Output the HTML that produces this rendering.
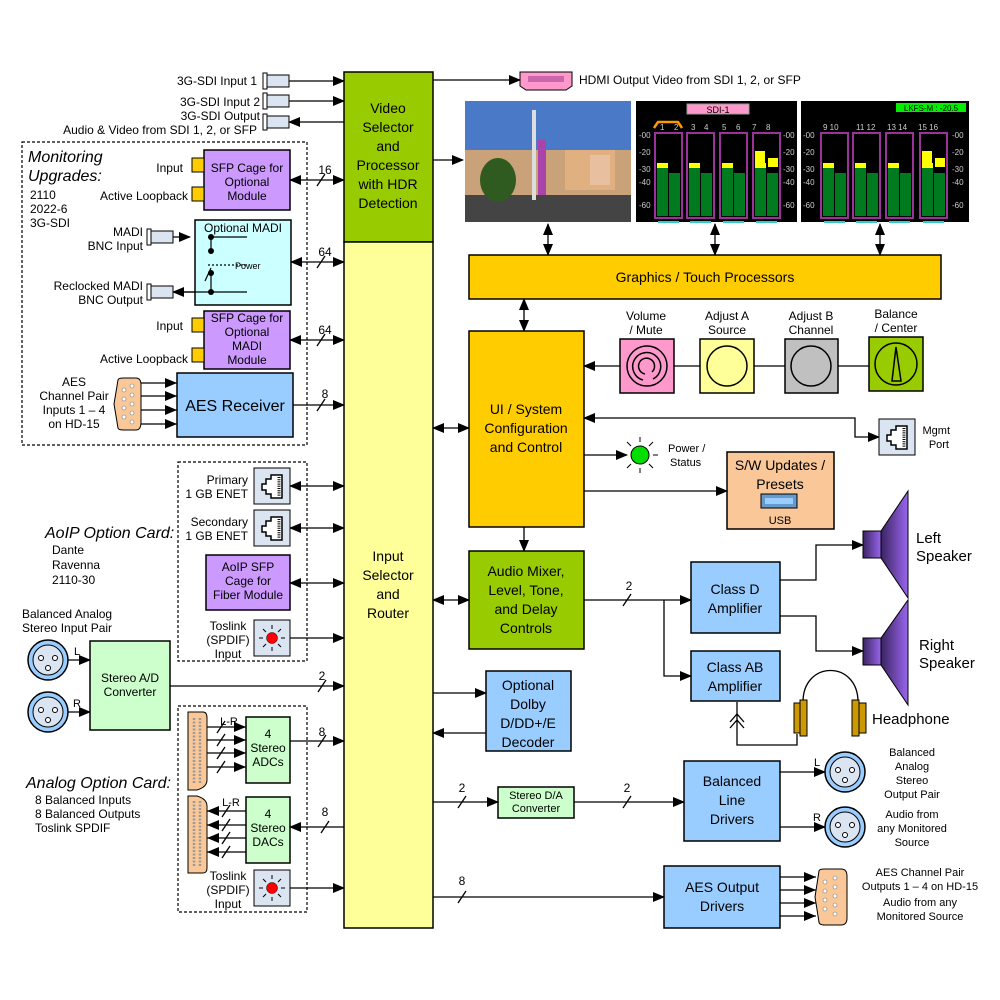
<!DOCTYPE html>
<html><head><meta charset="utf-8"><style>
html,body{margin:0;padding:0;background:#fff}
svg{display:block;font-family:"Liberation Sans",Arial,sans-serif}
</style></head><body>
<svg width="1000" height="1000" viewBox="0 0 1000 1000" xmlns="http://www.w3.org/2000/svg">
<defs>
<marker id="a" markerWidth="12" markerHeight="10" refX="11" refY="5" orient="auto" markerUnits="userSpaceOnUse"><path d="M0,0 L12,5 L0,10 z" fill="#000"/></marker>
<marker id="s" markerWidth="12" markerHeight="10" refX="1" refY="5" orient="auto" markerUnits="userSpaceOnUse"><path d="M12,0 L0,5 L12,10 z" fill="#000"/></marker>
<linearGradient id="sp" x1="0" x2="1"><stop offset="0" stop-color="#3a2460"/><stop offset="1" stop-color="#9966ee"/></linearGradient>
<g id="mg">
<rect x="0" y="0" width="27" height="85" fill="none" stroke="#993399" stroke-width="2"/>
<rect x="2" y="35" width="11" height="48" fill="#007a1e"/><rect x="14" y="40" width="11" height="43" fill="#007a1e"/>
<rect x="2" y="30" width="11" height="5" fill="#ffff00"/>
<rect x="3" y="88" width="21" height="2" fill="#33cccc"/>
</g>
<g id="rj">
<rect x="0" y="0" width="36" height="36" fill="#dbe5f1" stroke="#000"/>
<path d="M28,7 H17 V11 H12 V16 H8 V22 H12 V26 H17 V30 H28 Z" fill="#fff" stroke="#000" stroke-width="1.5"/>
<path d="M25,9 V28" stroke="#000" stroke-dasharray="1,1.2" stroke-width="3"/>
</g>
<g id="led">
<rect x="0" y="0" width="36" height="36" fill="#dbe5f1" stroke="#000"/>
<circle cx="18" cy="18" r="5.5" fill="#ff0000" stroke="#000" stroke-width=".5"/>
<path d="M18,5 V9 M18,27 V31 M5,18 H9 M27,18 H31 M9,9 L12,12 M27,9 L24,12 M9,27 L12,24 M27,27 L24,24" stroke="#000"/>
</g>
<g id="bnc">
<rect x="0" y="0" width="22" height="12" fill="#dbe5f1" stroke="#000"/>
<rect x="-4" y="-2" width="4" height="16" fill="#fff" stroke="#000"/>
</g>
<g id="xlr">
<circle cx="0" cy="0" r="20" fill="#99ccff" stroke="#000" stroke-width="1.5"/>
<circle cx="0" cy="0" r="15" fill="#dbe5f1" stroke="#000"/>
<circle cx="-7" cy="-2" r="2.5" fill="#fff" stroke="#000"/><circle cx="7" cy="-2" r="2.5" fill="#fff" stroke="#000"/><circle cx="0" cy="8" r="2.5" fill="#fff" stroke="#000"/>
</g>
<g id="sl"><path d="M-4,6 L4,-6" stroke="#000" stroke-width="1.3"/></g>
</defs>

<g stroke="#000" stroke-width="1.5" fill="none">
<rect x="344" y="72" width="89" height="170" fill="#99cc00"/>
<rect x="344" y="242" width="89" height="686" fill="#ffff99"/>
<rect x="469" y="255" width="472" height="44" fill="#ffcc00"/>
<rect x="469" y="331" width="115" height="196" fill="#ffcc00"/>
<rect x="469" y="551" width="115" height="98" fill="#99cc00"/>
<rect x="486" y="671" width="85" height="80" fill="#99ccff"/>
<rect x="691" y="562" width="89" height="71" fill="#99ccff"/>
<rect x="691" y="651" width="89" height="50" fill="#99ccff"/>
<rect x="684" y="761" width="96" height="80" fill="#99ccff"/>
<rect x="664" y="866" width="116" height="62" fill="#99ccff"/>
<rect x="498" y="787" width="76" height="31" fill="#ccffcc"/>
<rect x="727" y="452" width="107" height="77" fill="#fac898"/>
<rect x="620" y="339" width="54" height="54" fill="#ff99cc"/>
<rect x="700" y="339" width="54" height="54" fill="#ffff99"/>
<rect x="785" y="339" width="53" height="54" fill="#c0c0c0"/>
<rect x="869" y="337" width="54" height="54" fill="#99cc00"/>
<circle cx="647" cy="366" r="20"/><path d="M643,380 A14,14 0 1 1 653,379"/><path d="M645,374 A8,8 0 1 1 652,372"/>
<circle cx="727" cy="366" r="20"/><circle cx="811" cy="366" r="20"/><circle cx="896" cy="364" r="21"/>
<path d="M892,381 L896,347 L901,381 Z"/>
<rect x="204" y="150" width="86" height="60" fill="#cc99ff"/>
<rect x="195" y="220" width="96" height="85" fill="#ccffff"/>
<rect x="204" y="311" width="86" height="58" fill="#cc99ff"/>
<rect x="177" y="373" width="116" height="64" fill="#99ccff"/>
<rect x="206" y="555" width="84" height="55" fill="#cc99ff"/>
<rect x="90" y="641" width="80" height="89" fill="#ccffcc"/>
<rect x="246" y="717" width="44" height="66" fill="#ccffcc"/>
<rect x="246" y="797" width="44" height="66" fill="#ccffcc"/>
<rect x="22" y="142" width="285" height="303" stroke-dasharray="3,2" stroke-width="1.2"/>
<rect x="178" y="462" width="129" height="199" stroke-dasharray="3,2" stroke-width="1.2"/>
<rect x="178" y="706" width="129" height="206" stroke-dasharray="3,2" stroke-width="1.2"/>
</g>
<g fill="#ffcc00" stroke="#000"><rect x="192" y="158" width="12" height="14"/><rect x="192" y="187" width="12" height="14"/><rect x="192" y="318" width="12" height="14"/><rect x="192" y="348" width="12" height="14"/></g>

<g stroke="#000" stroke-width="1.2" fill="none">
<path d="M211,237 H247"/><path d="M180,292 H247"/>
<path d="M211,237 V251 M211,268 L205,281 M211,273 V292"/>
<path d="M208,265 H248" stroke-dasharray="2,2"/>
</g>
<g fill="#000"><circle cx="211" cy="237" r="3"/><circle cx="211" cy="251" r="3"/><circle cx="211" cy="273" r="3"/><circle cx="211" cy="292" r="3"/></g>
<path d="M173,237 H190" stroke="#000" stroke-width="1.2" marker-end="url(#a)"/>
<path d="M195,292 H173" stroke="#000" stroke-width="1.2" marker-end="url(#a)"/>
<use href="#bnc" x="151" y="231"/><use href="#bnc" x="151" y="286"/>

<use href="#bnc" x="267" y="75"/><use href="#bnc" x="267" y="95"/><use href="#bnc" x="267" y="116"/>
<g stroke="#000" stroke-width="1.3" fill="none">
<path d="M289,81 H344" marker-end="url(#a)"/>
<path d="M289,101 H344" marker-end="url(#a)"/>
<path d="M344,122 H289" marker-end="url(#a)"/>
<path d="M433,80 H520" marker-end="url(#a)"/>
<path d="M433,160 H463" marker-end="url(#a)"/>
<path d="M548,224 V255" marker-start="url(#s)" marker-end="url(#a)"/>
<path d="M715,224 V255" marker-start="url(#s)" marker-end="url(#a)"/>
<path d="M880,224 V255" marker-start="url(#s)" marker-end="url(#a)"/>
<path d="M524,299 V331" marker-start="url(#s)" marker-end="url(#a)"/>
<path d="M524,527 V551" marker-end="url(#a)"/>
<path d="M869,366 H838 M785,366 H754 M700,366 H674"/>
<path d="M620,366 H584" marker-end="url(#a)"/>
<path d="M584,418 H855 V437 H879" marker-start="url(#s)" marker-end="url(#a)"/>
<path d="M584,455 H627" marker-end="url(#a)"/>
<path d="M584,491 H727" marker-end="url(#a)"/>
<path d="M433,428 H469" marker-start="url(#s)" marker-end="url(#a)"/>
<path d="M433,600 H469" marker-start="url(#s)" marker-end="url(#a)"/>
<path d="M433,693 H486" marker-end="url(#a)"/>
<path d="M486,733 H433" marker-end="url(#a)"/>
<path d="M584,600 H691" marker-end="url(#a)"/>
<path d="M664,600 V676 H691" marker-end="url(#a)"/>
<path d="M780,580 H816 V545 H863" marker-end="url(#a)"/>
<path d="M780,616 H816 V651 H863" marker-end="url(#a)"/>
<path d="M433,802 H498" marker-end="url(#a)"/>
<path d="M574,802 H684" marker-end="url(#a)"/>
<path d="M780,772 H825" marker-end="url(#a)"/>
<path d="M780,827 H825" marker-end="url(#a)"/>
<path d="M433,897 H664" marker-end="url(#a)"/>
<path d="M780,877 H816 M780,890 H816 M780,903 H816 M780,916 H816"/>
<path d="M290,180 H344" marker-start="url(#s)" marker-end="url(#a)"/>
<path d="M291,262 H344" marker-start="url(#s)" marker-end="url(#a)"/>
<path d="M290,340 H344" marker-start="url(#s)" marker-end="url(#a)"/>
<path d="M293,405 H344" marker-end="url(#a)"/>
<path d="M140,383 H177 M140,396 H177 M140,410 H177 M140,424 H177"/>
<path d="M290,486 H344" marker-start="url(#s)" marker-end="url(#a)"/>
<path d="M290,528 H344" marker-start="url(#s)" marker-end="url(#a)"/>
<path d="M290,583 H344" marker-start="url(#s)" marker-end="url(#a)"/>
<path d="M290,638 H344" marker-end="url(#a)"/>
<path d="M170,686 H344" marker-end="url(#a)"/>
<path d="M68,660 H90" marker-end="url(#a)"/>
<path d="M68,712 H90" marker-end="url(#a)"/>
<path d="M290,741 H344" marker-end="url(#a)"/>
<path d="M344,827 H290" marker-end="url(#a)"/>
<path d="M290,888 H344" marker-end="url(#a)"/>
<path d="M207,727 H246 M207,740 H246 M207,753 H246 M207,767 H246"/>
<path d="M246,811 H207 M246,825 H207 M246,838 H207 M246,852 H207"/>
<path d="M803,702 C803,660 858,660 858,702"/>
<path d="M797,734 V745 H737 V702"/>
<path d="M730,722 L737,714 L744,722 M730,728 L737,720 L744,728"/>
</g>
<g fill="#000">
<path d="M165,378 L177,383 L165,388z M165,391 L177,396 L165,401z M165,405 L177,410 L165,415z M165,419 L177,424 L165,429z"/>
<path d="M234,722 L246,727 L234,732z M234,735 L246,740 L234,745z M234,748 L246,753 L234,758z M234,762 L246,767 L234,772z"/>
<path d="M219,806 L207,811 L219,816z M219,820 L207,825 L219,830z M219,833 L207,838 L219,843z M219,847 L207,852 L219,857z"/>
<path d="M804,872 L816,877 L804,882z M804,885 L816,890 L804,895z M804,898 L816,903 L804,908z M804,911 L816,916 L804,921z"/>
</g>
<use href="#sl" x="321" y="180"/><use href="#sl" x="321" y="262"/><use href="#sl" x="321" y="340"/><use href="#sl" x="321" y="405"/>
<use href="#sl" x="322" y="686"/><use href="#sl" x="322" y="741"/><use href="#sl" x="325" y="827"/>
<use href="#sl" x="627" y="600"/><use href="#sl" x="462" y="802"/><use href="#sl" x="627" y="802"/><use href="#sl" x="462" y="897"/>
<use href="#sl" x="221" y="727"/><use href="#sl" x="221" y="740"/><use href="#sl" x="221" y="753"/><use href="#sl" x="221" y="767"/>
<use href="#sl" x="226" y="811"/><use href="#sl" x="226" y="825"/><use href="#sl" x="226" y="838"/><use href="#sl" x="226" y="852"/>

<g fill="#fac898" stroke="#000">
<path d="M118,380 Q118,378 124,378 H136 Q141,378 141,385 V422 Q141,430 136,430 H124 Q118,430 118,428 L114,404 Z"/>
<path d="M815,871 Q815,869 821,869 H837 Q843,869 843,876 V918 Q843,925 837,925 H821 Q815,925 815,922 L811,897 Z" transform="translate(4,0)"/>
<path d="M188,712 H203 Q207,712 207,718 V780 Q207,787 197,790 L188,790 Z"/>
<path d="M188,796 L197,796 Q207,799 207,806 V868 Q207,873 203,873 H188 Z"/>
</g>
<g fill="#fff" stroke="#777" stroke-width=".6">
<circle cx="124" cy="390" r="2"/><circle cx="124" cy="399" r="2"/><circle cx="124" cy="408" r="2"/><circle cx="124" cy="417" r="2"/>
<circle cx="132" cy="386" r="2"/><circle cx="132" cy="395" r="2"/><circle cx="132" cy="404" r="2"/><circle cx="132" cy="413" r="2"/><circle cx="132" cy="422" r="2"/>
<circle cx="825" cy="882" r="2"/><circle cx="825" cy="891" r="2"/><circle cx="825" cy="900" r="2"/><circle cx="825" cy="909" r="2"/>
<circle cx="835" cy="878" r="2"/><circle cx="835" cy="887" r="2"/><circle cx="835" cy="896" r="2"/><circle cx="835" cy="905" r="2"/><circle cx="835" cy="914" r="2"/>
</g>
<path d="M194,718 V784 M200,718 V784 M194,801 V867 M200,801 V867" stroke="#999" stroke-width="2.5" stroke-dasharray="2,1.5"/>

<use href="#xlr" x="48" y="660"/><use href="#xlr" x="48" y="712"/>
<use href="#xlr" x="845" y="772"/><use href="#xlr" x="845" y="827"/>
<use href="#rj" x="254" y="468"/><use href="#rj" x="254" y="510"/><use href="#rj" x="879" y="419"/>
<use href="#led" x="254" y="620"/><use href="#led" x="254" y="870"/>
<circle cx="640" cy="455" r="9" fill="#00dd00" stroke="#000"/>
<path d="M640,437 V442 M640,468 V473 M622,455 H627 M653,455 H658 M627,442 L631,446 M653,442 L649,446 M627,468 L631,464 M653,468 L649,464" stroke="#000"/>
<rect x="761" y="494" width="36" height="14" fill="#6699cc" stroke="#000"/><rect x="765" y="498" width="28" height="6" fill="#99ccff"/>
<path d="M520,72 H572 V86 L566,90 H526 L520,86 Z" fill="#ff99cc" stroke="#000"/>
<rect x="528" y="76" width="36" height="6" fill="#cc66aa"/>

<rect x="863" y="531" width="18" height="27" fill="url(#sp)" stroke="#000"/>
<path d="M881,531 L908,491 V598 L881,558 Z" fill="url(#sp)" stroke="#000"/>
<rect x="863" y="638" width="18" height="27" fill="url(#sp)" stroke="#000"/>
<path d="M881,638 L908,600 V705 L881,665 Z" fill="url(#sp)" stroke="#000"/>
<g fill="#cc9900" stroke="#000"><rect x="794" y="703" width="7" height="30"/><rect x="800" y="700" width="7" height="36"/><rect x="859" y="703" width="7" height="30"/><rect x="852" y="700" width="7" height="36"/></g>

<rect x="465" y="101" width="166" height="121" fill="#5b87c9"/>
<rect x="465" y="101" width="166" height="50" fill="#4a79c8"/>
<rect x="465" y="150" width="166" height="45" fill="#c9a27a"/>
<rect x="565" y="150" width="50" height="40" fill="#e0b080"/>
<rect x="590" y="155" width="20" height="30" fill="#e8c0a0"/>
<rect x="465" y="195" width="166" height="27" fill="#444"/>
<ellipse cx="498" cy="180" rx="18" ry="22" fill="#2f5a20"/>
<rect x="532" y="110" width="4" height="90" fill="#ddd"/>
<rect x="538" y="140" width="8" height="55" fill="#aa44aa"/>
<rect x="636" y="101" width="161" height="121" fill="#000"/>
<rect x="801" y="101" width="168" height="121" fill="#000"/>
<rect x="687" y="104" width="62" height="10" fill="#ff99cc" stroke="#999"/>
<rect x="896" y="103" width="70" height="9" fill="#00ee00"/>
<path d="M654,128 L658,122 H678 L682,128" stroke="#ff9900" stroke-width="2.5" fill="none"/>
<use href="#mg" x="655" y="133"/><use href="#mg" x="687" y="133"/><use href="#mg" x="720" y="133"/><use href="#mg" x="753" y="133"/>
<use href="#mg" x="821" y="133"/><use href="#mg" x="853" y="133"/><use href="#mg" x="886" y="133"/><use href="#mg" x="920" y="133"/>
<rect x="755" y="151" width="10" height="16" fill="#ffff00"/><rect x="768" y="158" width="10" height="9" fill="#ffff00"/>
<rect x="922" y="151" width="10" height="16" fill="#ffff00"/><rect x="935" y="158" width="10" height="9" fill="#ffff00"/>
<g fill="#ccc" font-size="8">
<text x="639" y="138">-00</text><text x="639" y="155">-20</text><text x="639" y="172">-30</text><text x="639" y="185">-40</text><text x="639" y="208">-60</text>
<text x="783" y="138">-00</text><text x="783" y="155">-20</text><text x="783" y="172">-30</text><text x="783" y="185">-40</text><text x="783" y="208">-60</text>
<text x="803" y="138">-00</text><text x="803" y="155">-20</text><text x="803" y="172">-30</text><text x="803" y="185">-40</text><text x="803" y="208">-60</text>
<text x="952" y="138">-00</text><text x="952" y="155">-20</text><text x="952" y="172">-30</text><text x="952" y="185">-40</text><text x="952" y="208">-60</text>
<text x="660" y="130">1</text><text x="674" y="130">2</text><text x="691" y="130">3</text><text x="704" y="130">4</text><text x="722" y="130">5</text><text x="736" y="130">6</text><text x="752" y="130">7</text><text x="766" y="130">8</text>
<text x="823" y="130">9  10</text><text x="856" y="130">11  12</text><text x="887" y="130">13  14</text><text x="918" y="130">15  16</text>
</g>
<text x="718" y="113" font-size="9" text-anchor="middle">SDI-1</text>
<text x="931" y="111" font-size="8" text-anchor="middle">LKFS-M : -20.5</text>

<g font-size="14" text-anchor="middle" fill="#000">
<text x="388" y="113">Video</text><text x="388" y="132">Selector</text><text x="388" y="151">and</text><text x="388" y="170">Processor</text><text x="388" y="189">with HDR</text><text x="388" y="208">Detection</text>
<text x="388" y="561">Input</text><text x="388" y="580">Selector</text><text x="388" y="599">and</text><text x="388" y="618">Router</text>
<text x="705" y="282">Graphics / Touch Processors</text>
<text x="526" y="414">UI / System</text><text x="526" y="433">Configuration</text><text x="526" y="452">and Control</text>
<text x="526" y="576">Audio Mixer,</text><text x="526" y="595">Level, Tone,</text><text x="526" y="614">and Delay</text><text x="526" y="633">Controls</text>
<text x="528" y="690">Optional</text><text x="528" y="709">Dolby</text><text x="528" y="728">D/DD+/E</text><text x="528" y="747">Decoder</text>
<text x="735" y="594">Class D</text><text x="735" y="613">Amplifier</text>
<text x="735" y="672">Class AB</text><text x="735" y="691">Amplifier</text>
<text x="732" y="786">Balanced</text><text x="732" y="805">Line</text><text x="732" y="824">Drivers</text>
<text x="722" y="892">AES Output</text><text x="722" y="911">Drivers</text>
<text x="780" y="470">S/W Updates /</text><text x="780" y="489">Presets</text>
<text x="235" y="411" font-size="16">AES Receiver</text>
</g>
<g font-size="15" fill="#000">
<text x="916" y="543">Left</text><text x="916" y="561">Speaker</text>
<text x="919" y="650">Right</text><text x="919" y="668">Speaker</text>
<text x="872" y="724">Headphone</text>
</g>
<g font-size="12" text-anchor="middle" fill="#000">
<text x="247" y="172">SFP Cage for</text><text x="247" y="186">Optional</text><text x="247" y="200">Module</text>
<text x="243" y="232">Optional MADI</text>
<text x="247" y="322">SFP Cage for</text><text x="247" y="336">Optional</text><text x="247" y="350">MADI</text><text x="247" y="364">Module</text>
<text x="248" y="571">AoIP SFP</text><text x="248" y="585">Cage for</text><text x="248" y="599">Fiber Module</text>
<text x="130" y="682">Stereo A/D</text><text x="130" y="696">Converter</text>
<text x="268" y="738">4</text><text x="268" y="752">Stereo</text><text x="268" y="766">ADCs</text>
<text x="268" y="818">4</text><text x="268" y="832">Stereo</text><text x="268" y="846">DACs</text>
<text x="536" y="799" font-size="11">Stereo D/A</text><text x="536" y="812" font-size="11">Converter</text>
<text x="646" y="320">Volume</text><text x="646" y="334">/ Mute</text>
<text x="727" y="320">Adjust A</text><text x="727" y="334">Source</text>
<text x="811" y="320">Adjust B</text><text x="811" y="334">Channel</text>
<text x="896" y="318">Balance</text><text x="896" y="332">/ Center</text>
<text x="780" y="524" font-size="11">USB</text>
<text x="912" y="756" font-size="11">Balanced</text><text x="912" y="770" font-size="11">Analog</text><text x="912" y="784" font-size="11">Stereo</text><text x="912" y="798" font-size="11">Output Pair</text>
<text x="912" y="818" font-size="11">Audio from</text><text x="912" y="832" font-size="11">any Monitored</text><text x="912" y="846" font-size="11">Source</text>
<text x="920" y="876" font-size="11">AES Channel Pair</text><text x="920" y="890" font-size="11">Outputs 1 – 4  on HD-15</text>
<text x="920" y="906" font-size="11">Audio from any</text><text x="920" y="920" font-size="11">Monitored Source</text>
<text x="74" y="386">AES</text><text x="74" y="400">Channel Pair</text><text x="74" y="414">Inputs 1 – 4</text><text x="74" y="428">on HD-15</text>
<text x="228" y="630">Toslink</text><text x="228" y="644">(SPDIF)</text><text x="228" y="658">Input</text>
<text x="228" y="880">Toslink</text><text x="228" y="894">(SPDIF)</text><text x="228" y="908">Input</text>
<text x="325" y="174">16</text><text x="325" y="256">64</text><text x="325" y="334">64</text><text x="325" y="398">8</text>
<text x="322" y="680">2</text><text x="322" y="736">8</text><text x="325" y="816">8</text>
<text x="629" y="590">2</text><text x="462" y="792">2</text><text x="627" y="792">2</text><text x="462" y="885">8</text>
<text x="229" y="725" font-size="11">L-R</text><text x="231" y="806" font-size="11">L-R</text>
<text x="77" y="655" font-size="11">L</text><text x="77" y="707" font-size="11">R</text>
<text x="817" y="766" font-size="11">L</text><text x="817" y="821" font-size="11">R</text>
</g>
<g font-size="12" text-anchor="end" fill="#000">
<text x="257" y="85">3G-SDI Input 1</text><text x="260" y="106">3G-SDI Input 2</text><text x="260" y="120">3G-SDI Output</text>
<text x="257" y="134">Audio &amp; Video from SDI 1, 2, or SFP</text>
<text x="183" y="172">Input</text><text x="188" y="200">Active Loopback</text>
<text x="143" y="236">MADI</text><text x="143" y="250">BNC Input</text>
<text x="143" y="290">Reclocked MADI</text><text x="143" y="304">BNC Output</text>
<text x="183" y="330">Input</text><text x="188" y="363">Active Loopback</text>
<text x="248" y="484">Primary</text><text x="248" y="498">1 GB ENET</text>
<text x="248" y="526">Secondary</text><text x="248" y="540">1 GB ENET</text>
<text x="950" y="434" font-size="11">Mgmt</text><text x="949" y="448" font-size="11">Port</text>
</g>
<text x="668" y="452" font-size="11">Power /</text><text x="670" y="466" font-size="11">Status</text>
<text x="579" y="84" font-size="12">HDMI Output Video from SDI 1, 2, or SFP</text>
<text x="235" y="269" font-size="9">Power</text>
<g font-size="16" font-style="italic"><text x="28" y="162">Monitoring</text><text x="28" y="181">Upgrades:</text>
<text x="45" y="538">AoIP Option Card:</text><text x="26" y="788">Analog Option Card:</text></g>
<g font-size="12"><text x="30" y="199">2110</text><text x="30" y="213">2022-6</text><text x="30" y="227">3G-SDI</text>
<text x="52" y="554">Dante</text><text x="52" y="569">Ravenna</text><text x="52" y="584">2110-30</text>
<text x="22" y="618">Balanced Analog</text><text x="22" y="632">Stereo Input Pair</text>
<text x="35" y="804">8 Balanced Inputs</text><text x="35" y="818">8 Balanced Outputs</text><text x="35" y="832">Toslink SPDIF</text></g>
</svg>
</body></html>
